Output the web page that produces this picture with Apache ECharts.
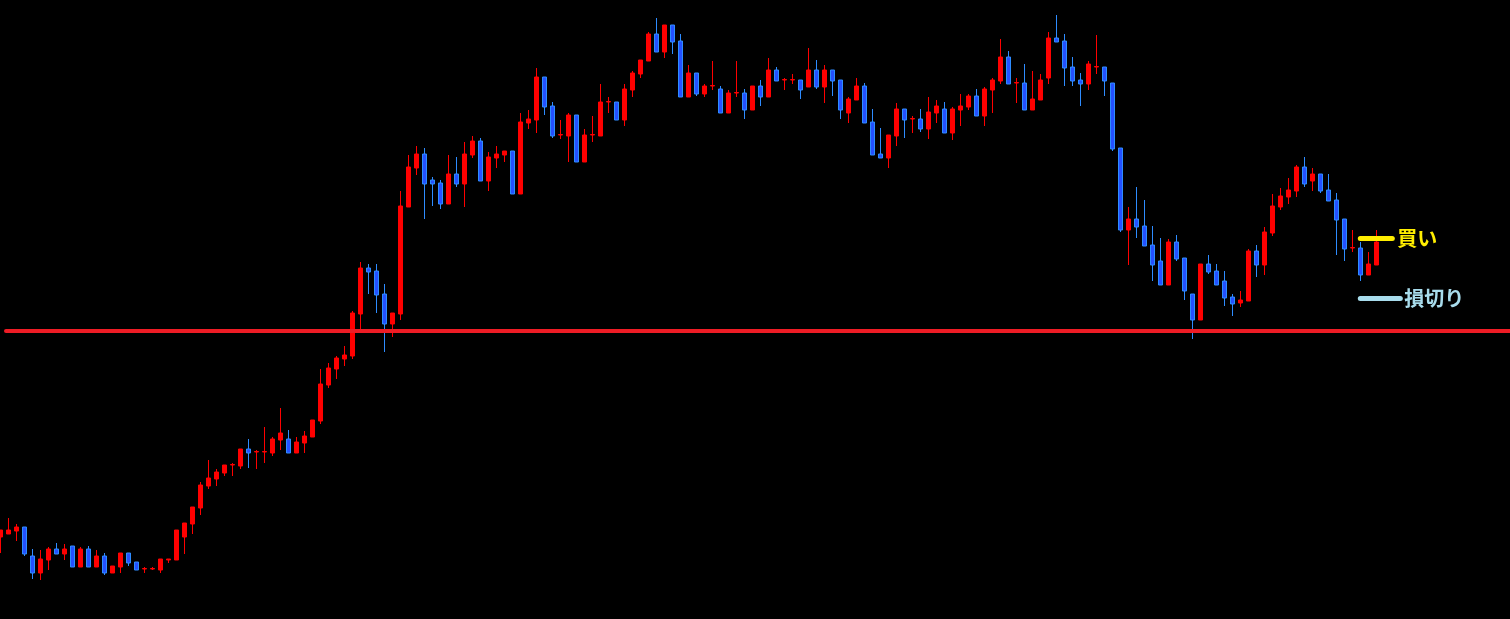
<!DOCTYPE html>
<html>
<head>
<meta charset="utf-8">
<title>chart</title>
<script src="https://cdn.jsdelivr.net/npm/echarts@6/dist/echarts.min.js"></script>
<style>
  html, body {
    margin: 0;
    padding: 0;
    background: #000;
  }
  #chart {
    width: 1510px;
    height: 619px;
  }
</style>
</head>
<body>
<div id="chart"></div>
<script>
// OHLC per bar (price units)
let opens = [
  463, 466, 469, 473, 444, 427, 440, 451, 446, 454,
  433, 451, 433, 444, 427, 433, 447, 438, 431, 431,
  430, 440, 440, 463, 476, 492, 514, 521, 527, 535,
  534, 551, 548, 548, 547, 560, 561, 547, 557, 563,
  579, 615, 631, 641, 644, 686, 732, 729, 706, 676,
  686, 793, 832, 846, 820, 817, 796, 826, 816, 845,
  859, 819, 842, 845, 849, 806, 877, 880, 923, 894,
  865, 864, 885, 838, 865, 864, 898, 898, 880, 910,
  926, 939, 966, 948, 975, 959, 903, 927, 906, 914,
  911, 887, 907, 907, 890, 914, 903, 930, 920, 920,
  920, 913, 930, 913, 930, 920, 887, 900, 914, 878,
  846, 842, 864, 891, 881, 881, 871, 887, 891, 867,
  890, 893, 904, 884, 910, 919, 943, 917, 917, 890,
  900, 922, 962, 959, 933, 920, 916, 933, 933, 917,
  852, 770, 781, 774, 755, 739, 715, 758, 742, 706,
  680, 736, 729, 719, 703, 697, 699, 749, 735, 767,
  793, 803, 809, 833, 819, 826, 810, 800, 781, 752,
  752, 725, 735
]
let closes = [
  470, 470, 473, 446, 427, 441, 451, 446, 451, 433,
  451, 433, 444, 427, 434, 447, 437, 430, 431.5, 431.5,
  441, 441, 470, 477, 493, 515, 522, 528, 535, 535.5,
  551, 547, 548.5, 548.5, 561, 567, 547, 558, 564, 580,
  616, 632, 642, 645, 687, 732, 728, 705, 676, 687,
  794, 833, 846, 816, 816, 796, 826, 816, 846, 859,
  819, 843, 846, 849, 806, 878, 881, 923, 893, 864,
  865.5, 885, 838, 865, 865.5, 898, 898.5, 880, 911, 927,
  940, 966, 948, 975, 958, 903, 927, 906, 914, 914.5,
  887, 907, 907.5, 890, 914, 903, 930, 919, 920.5, 920.5,
  910, 930, 913, 930, 919, 890, 901, 914, 877, 845,
  842, 865, 891, 880, 881.5, 871, 888, 894, 867, 891,
  894, 904, 884, 911, 920, 943, 916, 917.5, 890, 901,
  920, 962, 958, 932, 919, 916, 936, 933.5, 919, 851,
  770, 781, 773, 754, 735, 715, 758, 741, 709, 680,
  736, 728, 715, 702, 696, 700, 749, 735, 768, 794,
  804, 810, 833, 816, 826, 809, 799, 780, 751, 752.5,
  725, 736, 758
]
let lows = [
  447, 466, 459, 444, 421, 420, 430, 446, 440, 433,
  433, 433, 433, 425, 427, 427, 434, 430, 427, 430,
  427, 437, 440, 446, 466, 485, 511, 514, 524, 524,
  531, 532, 531, 537, 544, 550, 547, 547, 547, 563,
  576, 612, 621, 634, 641, 671, 706, 687, 648, 663,
  680, 793, 825, 781, 794, 791, 796, 813, 793, 842,
  819, 809, 832, 838, 806, 806, 871, 867, 885, 862,
  861, 838, 838, 838, 858, 864, 887, 880, 874, 903,
  922, 939, 948, 942, 946, 903, 903, 904, 903, 910,
  887, 887, 903, 881, 890, 894, 903, 919, 910, 916,
  901, 913, 911, 897, 904, 881, 877, 900, 877, 845,
  842, 832, 854, 862, 867, 868, 861, 877, 867, 860,
  874, 890, 884, 874, 887, 916, 916, 897, 890, 890,
  900, 916, 958, 914, 914, 894, 910, 926, 904, 849,
  768, 735, 762, 754, 719, 715, 715, 739, 700, 661,
  680, 726, 715, 694, 684, 693, 699, 723, 725, 764,
  790, 796, 803, 813, 809, 807, 799, 745, 739, 748,
  719, 725, 735
]
let highs = [
  470, 482, 476, 473, 451, 450, 453, 457, 456, 454,
  453, 454, 450, 447, 434, 447, 447, 438, 433, 433,
  441, 441, 470, 477, 493, 518, 540, 531, 535, 537,
  551, 561, 550, 573, 563, 592, 570, 563, 569, 580,
  631, 637, 644, 654, 689, 738, 736, 736, 716, 687,
  809, 845, 854, 852, 823, 820, 845, 843, 858, 864,
  862, 848, 854, 849, 849, 887, 890, 932, 923, 898,
  880, 887, 885, 871, 884, 916, 903, 898, 916, 929,
  940, 968, 982, 975, 975, 966, 935, 927, 916, 939,
  914, 910, 939, 911, 914, 920, 942, 933, 922, 926,
  920, 952, 940, 935, 930, 920, 903, 922, 917, 891,
  872, 865, 897, 891, 884, 891, 903, 900, 898, 893,
  906, 906, 911, 913, 922, 961, 949, 922, 936, 929,
  926, 968, 985, 966, 943, 927, 939, 965, 933, 917,
  852, 793, 813, 800, 774, 762, 761, 765, 742, 706,
  736, 745, 736, 729, 706, 709, 751, 755, 773, 806,
  812, 822, 835, 843, 832, 826, 826, 807, 781, 770,
  758, 748, 770
]

// horizontal levels
let supportLevel = 669
let buyLevel = 762
let stopLevel = 702
let buyRange = [170, 174]
let stopRange = [170, 175]

// bar slots, a few empty ones on the right for the labels
let categories = []
for (let i = 0; i < 189; i++) {
  categories.push(String(i + 1))
}

let dom = document.getElementById('chart')
let myChart = echarts.init(dom)

let candleData = opens.map((o, i) => [o, closes[i], lows[i], highs[i]])

let levelLabel = {
  show: true,
  position: 'end',
  fontSize: 20,
  fontWeight: 'bold',
  fontFamily: 'Noto Sans CJK JP'
}

let option = {
  backgroundColor: '#000',
  animation: false,
  grid: {
    left: 0.3,
    width: 1504,
    top: 0,
    height: 619
  },
  xAxis: {
    type: 'category',
    data: categories,
    show: false,
    boundaryGap: false
  },
  yAxis: {
    type: 'value',
    min: 381,
    max: 1000,
    show: false,
    splitLine: {
      show: false
    }
  },
  series: [
    {
      type: 'candlestick',
      data: candleData,
      barWidth: 5,
      clip: false,
      itemStyle: {
        color: '#ff0000',
        color0: '#2450ff',
        borderColor: '#ff0000',
        borderColor0: '#2e8cff',
        borderWidth: 1
      },
      markLine: {
        silent: true,
        symbol: ['none', 'none'],
        label: {
          show: false
        },
        lineStyle: {
          color: '#ee1c25',
          width: 4,
          type: 'solid',
          cap: 'round'
        },
        data: [
          // red level runs across the whole window
          [
            { x: 6, yAxis: supportLevel },
            { x: '100%', yAxis: supportLevel }
          ]
        ]
      }
    },
    {
      // buy / stop lines
      type: 'line',
      data: [],
      markLine: {
        silent: true,
        symbol: ['none', 'none'],
        data: [
          [
            {
              coord: [buyRange[0], buyLevel],
              lineStyle: { color: '#ffee00', width: 5, type: 'solid', cap: 'round' },
              label: Object.assign({}, levelLabel, { formatter: '買い', color: '#ffee00', distance: 5 })
            },
            { coord: [buyRange[1], buyLevel] }
          ],
          [
            {
              coord: [stopRange[0], stopLevel],
              lineStyle: { color: '#a8dcec', width: 5, type: 'solid', cap: 'round' },
              label: Object.assign({}, levelLabel, { formatter: '損切り', color: '#a8dcec', distance: 4 })
            },
            { coord: [stopRange[1], stopLevel] }
          ]
        ]
      }
    }
  ]
}

myChart.setOption(option, true)
</script>
</body>
</html>
